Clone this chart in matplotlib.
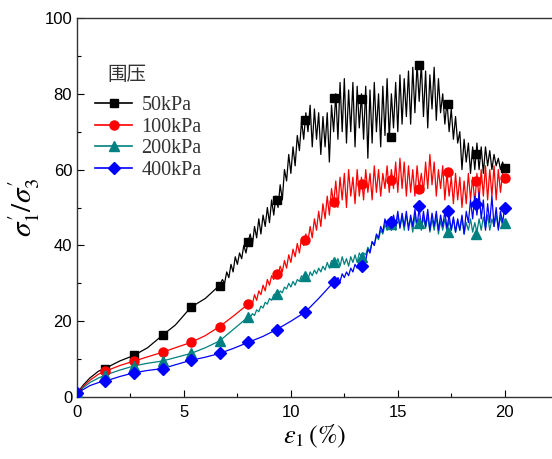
import numpy as np
import matplotlib
matplotlib.use("Agg")
import matplotlib.pyplot as plt
from matplotlib.lines import Line2D

plt.rcParams['mathtext.fontset'] = 'stix'

# ---------------- data ----------------
labels = ["50kPa", "100kPa", "200kPa", "400kPa"]
legend_title = "围压"

mark_x = [0, 1.33, 2.67, 4, 5.33, 6.67, 8, 9.33, 10.67, 12, 13.33, 14.67, 16, 17.33, 18.67, 20]
mark_50 = [1, 7.4, 11, 16.3, 23.7, 29.2, 41, 52, 73.2, 78.9, 78.5, 68.7, 87.6, 77.3, 64.1, 60.3]
mark_100 = [1, 6.8, 9.5, 11.8, 14.4, 18.6, 24.5, 32.4, 41.3, 51.4, 56.2, 57.3, 54.9, 59.3, 56.9, 57.8]
mark_200 = [1, 5.8, 8.2, 9.5, 11.5, 14.8, 21.1, 27.3, 31.8, 35.6, 36.9, 45.7, 46, 43.5, 43.1, 45.8]
mark_400 = [1, 4.2, 6.4, 7.5, 9.7, 11.5, 14.4, 17.8, 22.4, 30.3, 34.5, 46.1, 50.5, 49.2, 51, 50]

# smooth start parts
s50_x = [0, 0.3, 0.6, 1.0, 1.33, 2.0, 2.67, 3.3, 4.0, 4.6, 5.33, 6.0, 6.67]
s50_y = [1, 3.2, 5.0, 6.8, 7.6, 9.5, 11.0, 13.0, 16.3, 19.0, 23.7, 26.0, 29.5]
n50_y = [31, 30, 33, 31.5, 35, 33, 37, 35, 38, 36.5, 40, 38, 41,
         43, 40, 45, 42, 47, 43, 48, 45, 50, 46, 52, 48, 53,
         50, 56, 52, 60, 57, 64, 59, 66, 61, 69, 65, 73, 68, 75,
         70, 77, 66, 76, 68, 75, 64, 74, 66, 75, 62, 77, 70,
         80, 68, 83, 70, 84, 67, 81, 70, 83, 66, 82, 71, 80,
         68, 82, 63, 81, 67, 83, 70, 80, 66, 82, 69, 84, 68,
         80, 71, 83, 70, 85, 72, 84, 74, 86, 72, 87, 75, 88, 78,
         88, 74, 86, 71, 85, 76, 87, 73, 84, 75, 80, 72, 78,
         70, 76, 68, 74, 67, 70, 60, 68, 62, 67, 59, 66, 60,
         67, 60, 66, 59, 66, 61, 65, 60, 64, 61, 63, 60, 62, 60]
n50_x0 = 6.8

s100_x = [0, 0.3, 0.6, 1.0, 1.33, 2.0, 2.67, 3.3, 4.0, 4.6, 5.33, 6.0, 6.67, 7.3, 8.0]
s100_y = [1, 2.8, 4.4, 6.0, 6.8, 8.3, 9.5, 10.6, 11.8, 13.0, 14.4, 16.2, 18.6, 21.3, 24.5]
n100_y = [25.5, 24.5, 27, 25.5, 28, 27, 29.5, 28, 31, 29.5, 32, 31, 33,
          32, 34.5, 33, 36, 34, 37.5, 35.5, 39, 37, 40.5, 38, 42, 40, 43,
          41, 45, 42, 47, 44, 49, 45, 51, 47, 53, 48, 55, 51,
          57, 50, 58, 52, 59, 50, 60, 53, 58, 51, 60, 53, 58,
          52, 60, 54, 59, 52, 61, 54, 60, 53, 59, 55, 61, 54,
          60, 55, 62, 54, 63, 55, 62, 53, 61, 54, 60, 53, 61, 55,
          59, 54, 62, 55, 64, 56, 62, 53, 60, 55, 61, 52, 59,
          53, 58, 51, 59, 52, 58, 50, 57, 51, 59, 52, 58, 51,
          59, 52, 60, 53, 61, 52, 60, 53, 61, 52, 60, 54, 59, 58]
n100_x0 = 8.1

s200_x = [0, 0.3, 0.6, 1.0, 1.33, 2.0, 2.67, 3.3, 4.0, 4.6, 5.33, 6.0, 6.67, 7.3, 8.0]
s200_y = [1, 2.5, 3.8, 5.0, 5.8, 7.1, 8.2, 8.9, 9.5, 10.4, 11.5, 13.0, 14.8, 17.8, 21.1]
n200_y = [21, 22, 21.5, 23, 22.5, 24, 23.5, 25, 24.5, 26, 25.5, 27, 27.3,
          26.5, 28, 27.5, 29, 28.5, 30, 29, 30.5, 29.5, 31, 30.5, 32, 31, 32,
          31, 33, 32, 33.5, 32.5, 34, 33, 34.5, 33.5, 35.5, 34, 36, 35.5,
          35, 36.5, 34.5, 37, 35, 36.5, 34.5, 37, 35.5, 37.5, 35.5, 38, 37,
          38, 37.5, 39.5, 38.5, 41, 40, 42.5, 41.5, 44, 43, 45.5, 44, 46,
          45, 47, 44, 48, 45, 47.5, 44, 48, 45, 47, 43.5, 48, 44.5, 47,
          44, 47.5, 44.5, 48, 43.5, 47, 44, 47.5, 43, 46.5, 44, 47, 43.5,
          46.5, 44, 47, 43.5, 46.5, 44, 47.5, 43, 46, 44, 47, 43.5, 46,
          43.5, 47, 44, 47.5, 44.5, 48, 44, 47, 45, 48, 44.5, 47.5, 45, 46]
n200_x0 = 8.1

s400_x = [0, 0.3, 0.6, 1.0, 1.33, 2.0, 2.67, 3.3, 4.0, 4.6, 5.33, 6.0, 6.67, 7.3, 8.0,
          8.7, 9.33, 10.0, 10.67, 11.3, 12.0]
s400_y = [1, 2.0, 3.0, 3.8, 4.2, 5.4, 6.4, 7.0, 7.5, 8.5, 9.7, 10.5, 11.5, 12.8, 14.4,
          16, 17.8, 20, 22.4, 26, 30.3]
n400_y = [30, 31.5, 30.5, 32.5, 31.5, 33, 32, 34, 33, 35, 34, 36, 34.5,
          37, 36, 39, 38, 41, 40, 43, 42, 45, 43.5, 47, 44.5, 46,
          44, 48, 45, 49, 44.5, 48.5, 45, 49, 44, 48, 45, 49.5, 45, 50,
          44.5, 49, 45, 49.5, 44, 48.5, 45, 49, 44, 48, 45, 49, 44.5,
          48, 44, 47.5, 43.5, 47, 44, 48, 43, 49, 46, 52, 47, 53,
          48, 54, 47, 52, 44, 51, 46, 53, 45, 50, 44, 49, 46, 50]
n400_x0 = 12.1

colors = ["black", "#ff0000", "#008080", "#0000ff"]
markers = ["s", "o", "^", "D"]
msizes = [6, 6.5, 7, 6]


def build(sx, sy, ny, x0):
    nx = x0 + 0.1 * np.arange(len(ny))
    return np.concatenate([sx, nx]), np.concatenate([sy, ny])


series = [
    build(s50_x, s50_y, n50_y, n50_x0),
    build(s100_x, s100_y, n100_y, n100_x0),
    build(s200_x, s200_y, n200_y, n200_x0),
    build(s400_x, s400_y, n400_y, n400_x0),
]
marks = [mark_50, mark_100, mark_200, mark_400]

# ---------------- figure ----------------
W, H = 552, 459
fig = plt.figure(figsize=(W / 100, H / 100), dpi=100)
ax = fig.add_axes([77 / W, 62 / H, 475 / W, 379 / H])

handles = []
for (x, y), my, c, m, ms, lab in zip(series, marks, colors, markers, msizes, labels):
    ax.plot(x, y, color=c, lw=0.9, zorder=2)
    ax.plot(mark_x, my, linestyle="none", marker=m, color=c, ms=ms, zorder=3)
    handles.append(Line2D([], [], color=c, lw=1.2, marker=m, ms=ms, label=lab))

ax.set_xlim(0, 22.21)
ax.set_ylim(0, 100)
ax.set_xticks([0, 5, 10, 15, 20])
ax.set_xticks([2.5, 7.5, 12.5, 17.5], minor=True)
ax.set_yticks([0, 20, 40, 60, 80, 100])
ax.set_yticks([10, 30, 50, 70, 90], minor=True)
ax.tick_params(which="both", direction="in", labelsize=12)
ax.tick_params(which="major", length=5, width=0.8)
ax.tick_params(which="minor", length=3, width=0.8)
ax.tick_params(axis="x", pad=6)
for lab in ax.get_xticklabels() + ax.get_yticklabels():
    lab.set_family("Liberation Sans")
ax.spines["right"].set_visible(False)
for s in ["left", "bottom", "top"]:
    ax.spines[s].set_linewidth(1.0)
    ax.spines[s].set_color("#333333")

ax.set_xlabel(r"$\varepsilon_1\,(\%)$", fontsize=19, labelpad=2)
ax.set_ylabel(r"$\sigma_1'/\sigma_3'$", fontsize=21, labelpad=2)

leg = fig.legend(handles=handles, loc="upper left",
                 bbox_to_anchor=(95 / W, (H - 96) / H), bbox_transform=fig.transFigure,
                 frameon=False, borderpad=0, borderaxespad=0,
                 prop={"family": "Liberation Serif", "size": 14.5},
                 handlelength=1.85, labelspacing=0.12, handletextpad=0.45)
for t in leg.get_texts():
    t.set_color("#333333")

fig.text(107 / W, (H - 75) / H, legend_title, family=["Noto Sans CJK SC", "DejaVu Sans"],
         fontsize=14, color="#333333", va="center", ha="left")

fig.savefig("out.png", dpi=100)
